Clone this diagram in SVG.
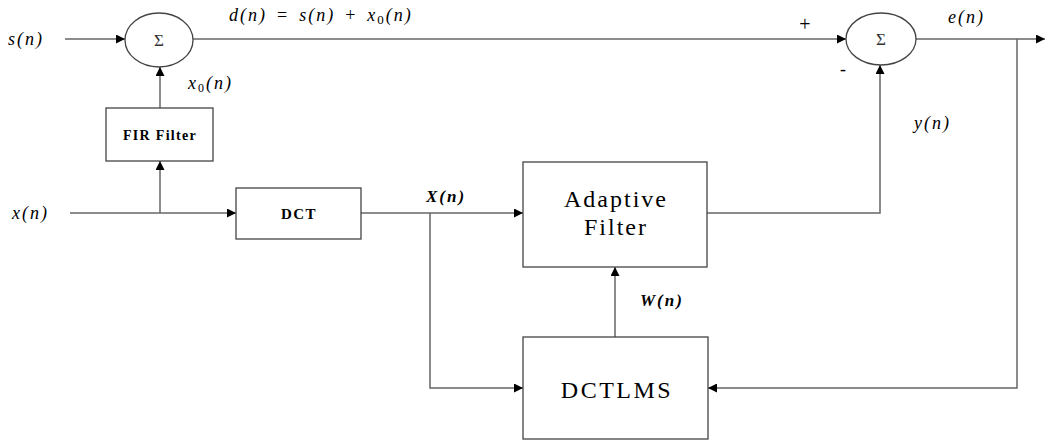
<svg xmlns="http://www.w3.org/2000/svg" width="1049" height="441" viewBox="0 0 1049 441">
<defs>
<marker id="arr" viewBox="0 0 10 10" refX="10" refY="5" markerWidth="9" markerHeight="9" markerUnits="userSpaceOnUse" orient="auto">
<path d="M0,0 L10,5 L0,10 z" fill="#000"/>
</marker>
<style>
.ln{fill:none;stroke:#666;stroke-width:1.5}
.bx{fill:#fff;stroke:#444;stroke-width:1.3}
.m{font-style:italic;font-size:18px;letter-spacing:2px;fill:#000}
.mb{font-style:italic;font-weight:bold;font-size:17px;letter-spacing:2px;fill:#000}
.t{fill:#000;text-anchor:middle}
.sg{font-size:17px;fill:#333;text-anchor:middle}
</style>
</defs>
<rect width="1049" height="441" fill="#fff"/>
<g id="connectors">
<line class="ln" x1="65" y1="39" x2="125" y2="39" marker-end="url(#arr)"/>
<line class="ln" x1="193" y1="39" x2="846" y2="39" marker-end="url(#arr)"/>
<line class="ln" x1="916" y1="39" x2="1045" y2="39" marker-end="url(#arr)"/>
<polyline class="ln" points="1017,39 1017,388 708,388" marker-end="url(#arr)"/>
<line class="ln" x1="160" y1="108" x2="160" y2="67" marker-end="url(#arr)"/>
<line class="ln" x1="70" y1="213" x2="236" y2="213" marker-end="url(#arr)"/>
<line class="ln" x1="160" y1="213" x2="160" y2="161" marker-end="url(#arr)"/>
<line class="ln" x1="361" y1="213" x2="523" y2="213" marker-end="url(#arr)"/>
<polyline class="ln" points="430,213 430,388 523,388" marker-end="url(#arr)"/>
<line class="ln" x1="615" y1="337" x2="615" y2="267" marker-end="url(#arr)"/>
<polyline class="ln" points="707,213 880,213 880,65" marker-end="url(#arr)"/>
</g>
<g font-family="Liberation Serif, Times New Roman, Tinos, DejaVu Serif, serif">
<g id="sum1">
<ellipse cx="159" cy="40" rx="34" ry="27" class="bx"/>
<text x="159" y="46" class="sg">Σ</text>
</g>
<g id="sum2">
<ellipse cx="881" cy="39" rx="35" ry="26" class="bx"/>
<text x="881" y="45" class="sg">Σ</text>
</g>
<g id="fir">
<rect x="106" y="108" width="107" height="53" class="bx"/>
<text x="160" y="140" class="t" font-size="14" font-weight="bold" letter-spacing="1.3">FIR Filter</text>
</g>
<g id="dct">
<rect x="236" y="188" width="125" height="51" class="bx"/>
<text x="299" y="219" class="t" font-size="15" font-weight="bold" letter-spacing="1.5">DCT</text>
</g>
<g id="adaptive">
<rect x="523" y="162" width="184" height="105" class="bx"/>
<text x="616" y="207" class="t" font-size="24" letter-spacing="2">Adaptive</text>
<text x="616" y="235" class="t" font-size="24" letter-spacing="2">Filter</text>
</g>
<g id="dctlms">
<rect x="523" y="337" width="185" height="102" class="bx"/>
<text x="617" y="398" class="t" font-size="24" letter-spacing="2.5">DCTLMS</text>
</g>
<g id="labels">
<text x="8" y="45" class="m">s(n)</text>
<text x="12" y="219" class="m">x(n)</text>
<text x="229" y="21" class="m" font-size="19" letter-spacing="3">d(n)<tspan font-style="normal" dx="10">=</tspan><tspan dx="10">s(n)</tspan><tspan font-style="normal" dx="10">+</tspan><tspan dx="10">x</tspan><tspan font-style="normal" font-size="13" dy="3">0</tspan><tspan dy="-3">(n)</tspan></text>
<text x="188" y="89" class="m">x<tspan font-style="normal" font-size="12" dy="3">0</tspan><tspan dy="-3">(n)</tspan></text>
<text x="426" y="202" class="mb">X(n)</text>
<text x="640" y="306" class="mb">W(n)</text>
<text x="948" y="23" class="m">e(n)</text>
<text x="914" y="129" class="m">y(n)</text>
<text x="805" y="31" font-size="20" fill="#000" text-anchor="middle">+</text>
<text x="843" y="75" font-size="18" fill="#000" text-anchor="middle">-</text>
</g>
</g>
</svg>
